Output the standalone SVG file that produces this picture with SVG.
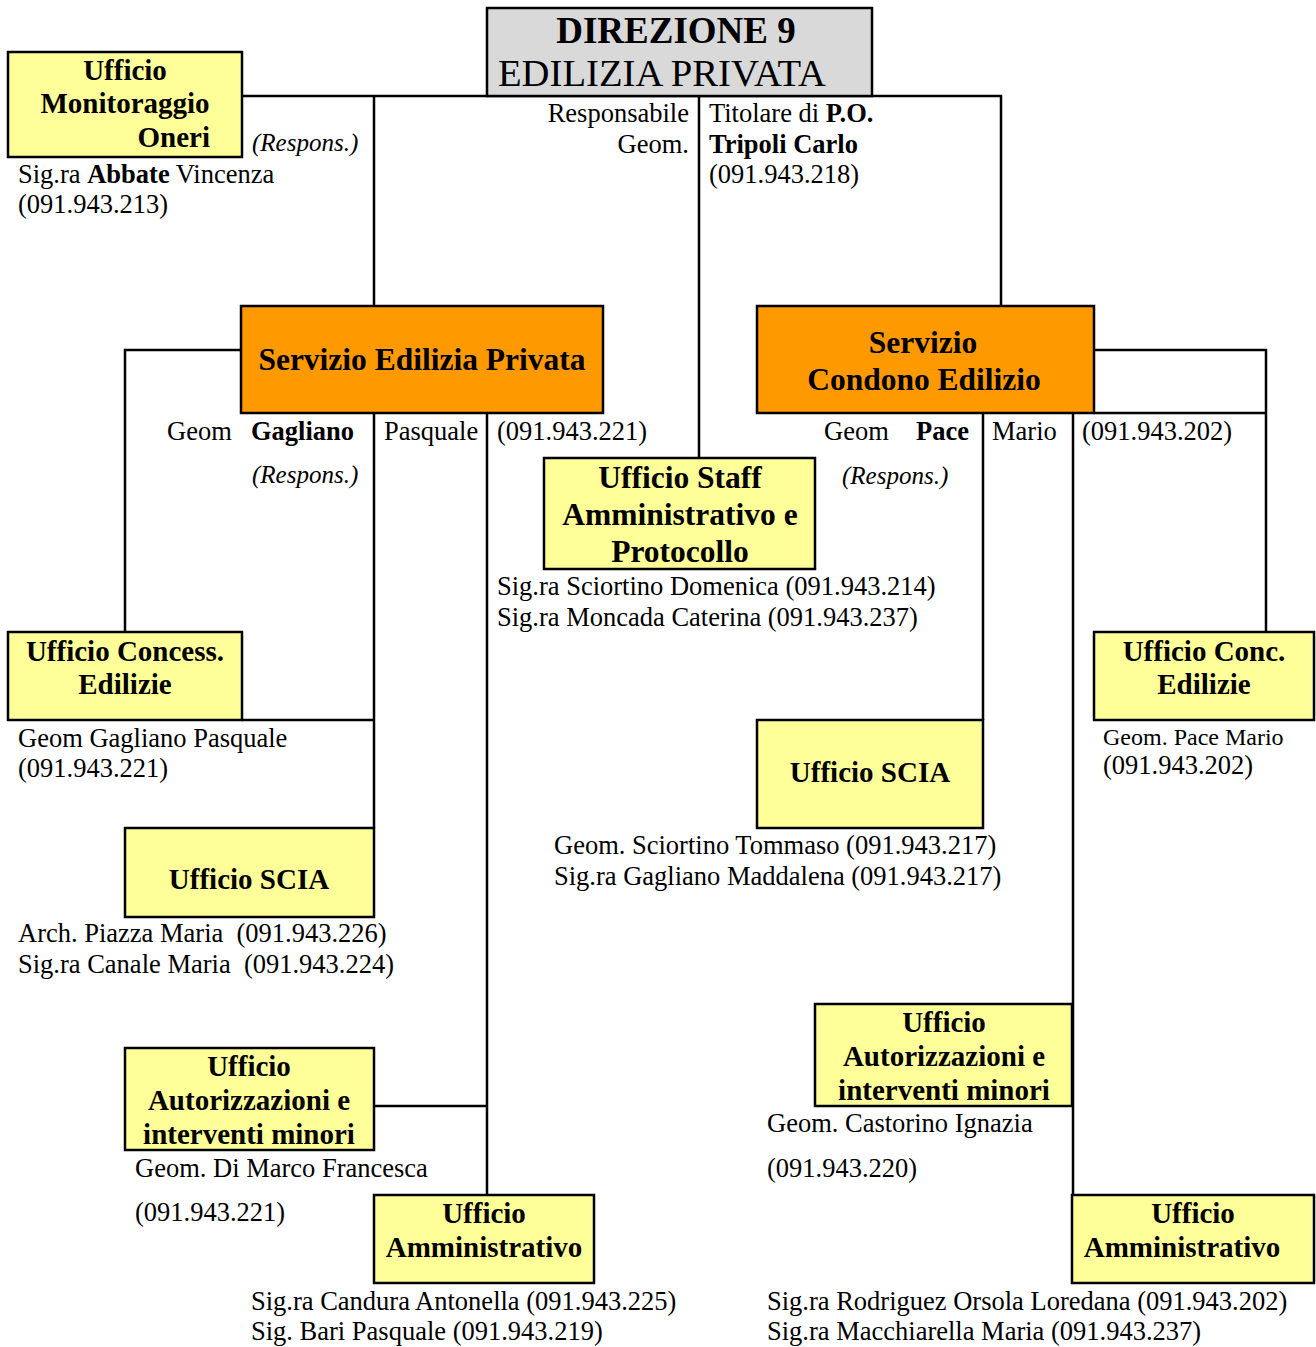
<svg xmlns="http://www.w3.org/2000/svg" width="1316" height="1347" viewBox="0 0 1316 1347">
<style>
.bg{fill:#ffffff}
.box{stroke:#000;stroke-width:2.5}
.y{fill:#ffff99}
.o{fill:#ff9900}
.g{fill:#d9d9d9}
.c{fill:none;stroke:#000;stroke-width:2.5}
text{font-family:"Liberation Serif","Times New Roman",serif;fill:#000}
.t{font-size:26.5px;white-space:pre}
.s{font-size:24px}
.h{font-size:29px;font-weight:bold;text-anchor:middle}
.hl{font-size:31.5px;font-weight:bold;text-anchor:middle}
.b{font-weight:bold}
.i{font-style:italic;font-size:25px}
.e{text-anchor:end}
</style>
<rect class="bg" x="0" y="0" width="1316" height="1347"/>
<g id="connectors">
<path class="c" d="M242 96 H1001 V306"/>
<path class="c" d="M374 96 V306"/>
<path class="c" d="M699 96 V458"/>
<path class="c" d="M241 350 H125 V632"/>
<path class="c" d="M374 413 V828"/>
<path class="c" d="M242 720 H374"/>
<path class="c" d="M487 413 V1195"/>
<path class="c" d="M374 1106 H487"/>
<path class="c" d="M1094 350 H1266 V632"/>
<path class="c" d="M1094 413 H1266"/>
<path class="c" d="M983 413 V720"/>
<path class="c" d="M1073 413 V1195"/>
</g>
<g id="direzione">
<rect class="box g" x="487" y="8" width="385" height="88"/>
<text class="b" x="676" y="43" font-size="37" text-anchor="middle">DIREZIONE 9</text>
<text x="498" y="86" font-size="38.5" textLength="328" lengthAdjust="spacingAndGlyphs">EDILIZIA PRIVATA</text>
<text class="t e" x="689" y="122">Responsabile</text>
<text class="t e" x="689" y="153">Geom.</text>
<text class="t" x="709" y="122">Titolare di <tspan class="b">P.O.</tspan></text>
<text class="t b" x="709" y="153">Tripoli Carlo</text>
<text class="t" x="709" y="183">(091.943.218)</text>
</g>
<g id="monitoraggio">
<rect class="box y" x="8" y="52" width="234" height="105"/>
<text class="h" x="125" y="80">Ufficio</text>
<text class="h" x="125" y="113">Monitoraggio</text>
<text class="h" x="210" y="147" style="text-anchor:end">Oneri</text>
<text class="t i" x="252" y="151">(Respons.)</text>
<text class="t" x="18" y="183">Sig.ra <tspan class="b">Abbate</tspan> Vincenza</text>
<text class="t" x="18" y="213">(091.943.213)</text>
</g>
<g id="servizio-edilizia">
<rect class="box o" x="241" y="306" width="362" height="107"/>
<text class="hl" x="422" y="370">Servizio Edilizia Privata</text>
<text class="t" x="167" y="440">Geom</text>
<text class="t b" x="251" y="440">Gagliano</text>
<text class="t" x="384" y="440">Pasquale</text>
<text class="t" x="497" y="440">(091.943.221)</text>
<text class="t i" x="252" y="483">(Respons.)</text>
</g>
<g id="servizio-condono">
<rect class="box o" x="757" y="306" width="337" height="107"/>
<text class="hl" x="923" y="353">Servizio</text>
<text class="hl" x="924" y="390">Condono Edilizio</text>
<text class="t" x="824" y="440">Geom</text>
<text class="t b" x="916" y="440">Pace</text>
<text class="t" x="992" y="440">Mario</text>
<text class="t" x="1082" y="440">(091.943.202)</text>
<text class="t i" x="842" y="484">(Respons.)</text>
</g>
<g id="staff">
<rect class="box y" x="544" y="458" width="271" height="111"/>
<text class="hl" x="680" y="488">Ufficio Staff</text>
<text class="hl" x="680" y="525">Amministrativo e</text>
<text class="hl" x="680" y="562">Protocollo</text>
<text class="t" x="497" y="595">Sig.ra Sciortino Domenica (091.943.214)</text>
<text class="t" x="497" y="626">Sig.ra Moncada Caterina (091.943.237)</text>
</g>
<g id="concess-left">
<rect class="box y" x="8" y="632" width="234" height="88"/>
<text class="h" x="125" y="661">Ufficio Concess.</text>
<text class="h" x="125" y="694">Edilizie</text>
<text class="t" x="18" y="747">Geom Gagliano Pasquale</text>
<text class="t" x="18" y="777">(091.943.221)</text>
</g>
<g id="scia-left">
<rect class="box y" x="125" y="828" width="249" height="89"/>
<text class="h" x="249" y="889">Ufficio SCIA</text>
<text class="t" x="18" y="942">Arch. Piazza Maria  (091.943.226)</text>
<text class="t" x="18" y="973">Sig.ra Canale Maria  (091.943.224)</text>
</g>
<g id="autorizzazioni-left">
<rect class="box y" x="125" y="1048" width="249" height="102"/>
<text class="h" x="249" y="1076">Ufficio</text>
<text class="h" x="249" y="1110">Autorizzazioni e</text>
<text class="h" x="249" y="1144">interventi minori</text>
<text class="t" x="135" y="1177">Geom. Di Marco Francesca</text>
<text class="t" x="135" y="1221">(091.943.221)</text>
</g>
<g id="amministrativo-left">
<rect class="box y" x="374" y="1195" width="220" height="88"/>
<text class="h" x="484" y="1223">Ufficio</text>
<text class="h" x="484" y="1257">Amministrativo</text>
<text class="t" x="251" y="1310">Sig.ra Candura Antonella (091.943.225)</text>
<text class="t" x="251" y="1340">Sig. Bari Pasquale (091.943.219)</text>
</g>
<g id="conc-right">
<rect class="box y" x="1094" y="632" width="220" height="88"/>
<text class="h" x="1204" y="661">Ufficio Conc.</text>
<text class="h" x="1204" y="694">Edilizie</text>
<text class="s" x="1103" y="745">Geom. Pace Mario</text>
<text class="t" x="1103" y="774">(091.943.202)</text>
</g>
<g id="scia-right">
<rect class="box y" x="757" y="720" width="226" height="108"/>
<text class="h" x="870" y="782">Ufficio SCIA</text>
<text class="t" x="554" y="854">Geom. Sciortino Tommaso (091.943.217)</text>
<text class="t" x="554" y="885">Sig.ra Gagliano Maddalena (091.943.217)</text>
</g>
<g id="autorizzazioni-right">
<rect class="box y" x="815" y="1004" width="257" height="102"/>
<text class="h" x="944" y="1032">Ufficio</text>
<text class="h" x="944" y="1066">Autorizzazioni e</text>
<text class="h" x="944" y="1100">interventi minori</text>
<text class="t" x="767" y="1132">Geom. Castorino Ignazia</text>
<text class="t" x="767" y="1177">(091.943.220)</text>
</g>
<g id="amministrativo-right">
<rect class="box y" x="1072" y="1195" width="242" height="88"/>
<text class="h" x="1193" y="1223">Ufficio</text>
<text class="h" x="1182" y="1257">Amministrativo</text>
<text class="t" x="767" y="1310">Sig.ra Rodriguez Orsola Loredana (091.943.202)</text>
<text class="t" x="767" y="1340">Sig.ra Macchiarella Maria (091.943.237)</text>
</g>
</svg>
